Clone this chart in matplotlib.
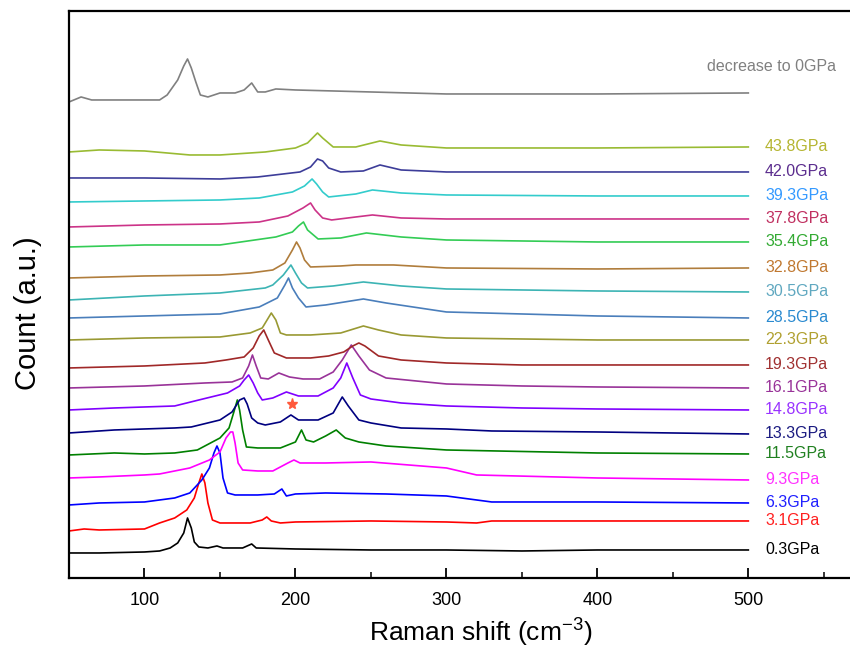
import matplotlib
matplotlib.use("Agg")
import matplotlib.pyplot as plt
from matplotlib.ticker import MultipleLocator

plt.rcParams["font.family"] = ["Liberation Sans", "DejaVu Sans"]

# Stacked Raman spectra under compression, plus the spectrum after release.
# Each trace: Raman shift (cm^-1) and stacked counts (a.u.), bottom to top.
pressures = ["0.3GPa", "3.1GPa", "6.3GPa", "9.3GPa", "11.5GPa", "13.3GPa",
             "14.8GPa", "16.1GPa", "19.3GPa", "22.3GPa", "28.5GPa", "30.5GPa",
             "32.8GPa", "35.4GPa", "37.8GPa", "39.3GPa", "42.0GPa", "43.8GPa"]
release_label = "decrease to 0GPa"

shift_03 = [50, 70, 100, 110, 117, 122, 126, 128.5, 131, 133, 136, 142, 148, 152, 165, 171, 174, 200, 250, 300, 350, 400, 450, 500]
count_03 = [25, 25, 26, 27, 30, 35, 45, 60, 50, 36, 31, 30, 32, 30, 30, 34, 30, 29, 28, 28, 27, 28, 28, 28]

shift_31 = [50, 60, 70, 100, 110, 120, 128, 133, 136, 138, 140, 142, 145, 150, 170, 178, 181, 184, 190, 200, 250, 300, 320, 330, 400, 500]
count_31 = [47, 49, 48, 49, 55, 60, 68, 80, 95, 104, 95, 75, 58, 55, 55, 58, 61, 57, 55, 56, 57, 56, 55, 57, 57, 57]

shift_63 = [50, 70, 100, 120, 130, 138, 143, 146, 148, 150, 152, 155, 160, 175, 186, 191, 194, 200, 220, 260, 300, 320, 330, 400, 500]
count_63 = [73, 75, 76, 80, 85, 98, 110, 125, 132, 125, 100, 85, 83, 83, 84, 89, 82, 84, 85, 84, 82, 78, 76, 76, 75]

shift_93 = [50, 70, 100, 110, 130, 143, 150, 154, 157, 158.5, 160, 162, 165, 175, 185, 195, 199, 203, 220, 250, 300, 320, 400, 500]
count_93 = [100, 101, 103, 104, 110, 118, 126, 140, 146, 146, 135, 115, 108, 107, 107, 115, 118, 115, 115, 116, 110, 103, 100, 98]

shift_115 = [50, 80, 100, 120, 135, 150, 156, 159, 161.5, 163, 165, 167.5, 175, 190, 200, 204, 207, 212, 220, 227, 233, 242, 260, 300, 400, 500]
count_115 = [123, 125, 124, 125, 128, 140, 150, 165, 178, 168, 148, 131, 130, 130, 136, 148, 138, 136, 142, 148, 140, 136, 132, 128, 125, 124]

shift_133 = [50, 80, 100, 120, 131, 150, 158, 163, 166, 168, 171, 175, 180, 190, 197, 202, 215, 225, 231, 235, 242, 250, 270, 300, 330, 400, 500]
count_133 = [145, 148, 149, 150, 151, 158, 166, 178, 180, 174, 160, 155, 153, 156, 163, 158, 158, 165, 181, 172, 158, 155, 150, 149, 147, 146, 144]

shift_148 = [50, 80, 100, 120, 136, 155, 163, 166, 169, 172, 175, 178, 185, 194, 202, 215, 225, 230, 234, 238, 243, 250, 270, 300, 350, 400, 500]
count_148 = [168, 170, 171, 172, 178, 185, 192, 198, 203, 195, 185, 178, 180, 186, 182, 182, 190, 200, 215, 200, 183, 179, 175, 172, 170, 169, 168]

shift_161 = [50, 100, 140, 158, 165, 169, 171.5, 174, 177, 182, 189, 196, 205, 216, 225, 231, 237, 242, 249, 260, 300, 350, 400, 500]
count_161 = [190, 192, 195, 196, 200, 212, 223, 212, 200, 199, 205, 201, 199, 199, 206, 218, 233, 222, 208, 200, 194, 192, 191, 190]

shift_193 = [50, 100, 140, 154, 166, 172, 176, 179, 182, 186, 194, 210, 222, 232, 238, 242, 246, 255, 270, 300, 350, 400, 500]
count_193 = [210, 212, 215, 218, 221, 230, 242, 248, 238, 225, 220, 220, 222, 226, 232, 235, 232, 222, 218, 215, 213, 213, 213]

shift_223 = [50, 100, 150, 170, 178, 184, 187, 190, 194, 210, 230, 245, 255, 270, 300, 400, 500]
count_223 = [238, 240, 241, 245, 250, 265, 258, 245, 243, 243, 245, 252, 248, 243, 240, 238, 238]

shift_285 = [50, 100, 150, 176, 188, 193, 195.4, 198, 202, 207, 220, 245, 260, 300, 400, 500]
count_285 = [260, 262, 264, 271, 280, 293, 300, 290, 280, 271, 273, 279, 275, 266, 262, 260]

shift_305 = [50, 100, 150, 180, 185, 192, 197, 200, 204, 208, 225, 245, 270, 300, 400, 500]
count_305 = [278, 282, 285, 290, 293, 303, 313, 305, 295, 290, 292, 296, 292, 289, 287, 286]

shift_328 = [50, 100, 150, 170, 185, 193, 198, 200.7, 203, 206, 210, 230, 240, 265, 300, 400, 500]
count_328 = [300, 302, 303, 305, 308, 315, 328, 336, 330, 318, 311, 312, 313, 313, 310, 309, 310]

shift_354 = [50, 100, 150, 187, 198, 202, 205.3, 208, 215, 230, 247, 270, 300, 400, 500]
count_354 = [331, 333, 333, 341, 346, 352, 356, 348, 339, 340, 345, 341, 338, 336, 336]

shift_378 = [50, 100, 150, 176, 195, 205, 210, 213, 218, 224, 240, 251, 270, 300, 400, 500]
count_378 = [351, 353, 354, 356, 362, 370, 375, 368, 360, 358, 361, 363, 360, 359, 359, 359]

shift_393 = [50, 100, 150, 176, 198, 206, 211, 214, 218, 222, 240, 251, 270, 300, 400, 500]
count_393 = [376, 377, 378, 380, 386, 392, 399, 394, 386, 381, 384, 388, 385, 383, 382, 382]

shift_420 = [50, 100, 150, 175, 203, 210, 214.6, 218, 222, 230, 245, 256, 270, 300, 400, 500]
count_420 = [400, 400, 399, 401, 406, 411, 419, 417, 410, 406, 407, 413, 408, 406, 406, 406]

shift_438 = [50, 70, 100, 130, 150, 160, 180, 200, 208, 214.6, 218, 225, 240, 256, 270, 300, 400, 500]
count_438 = [426, 428, 427, 423, 423, 424, 426, 430, 435, 445, 440, 431, 431, 437, 433, 430, 430, 431]

shift_rel = [50, 58, 65, 100, 110, 115, 122, 126, 128.5, 131, 134, 137, 142, 150, 160, 166, 171, 175, 180, 187, 200, 250, 300, 400, 500]
count_rel = [476, 481, 478, 478, 478, 483, 498, 512, 519, 510, 496, 483, 481, 485, 485, 488, 495, 486, 486, 489, 488, 486, 484, 484, 485]

# weak feature flagged with a star in the 13.3-14.8 GPa region
star_shift = 198
star_count = 174

line_colours = ["#000000", "#ff0000", "#0000ff", "#ff00ff", "#008000", "#000080",
                "#8000ff", "#993399", "#a02828", "#999933", "#4a7ebb", "#3cb4b4",
                "#b07d3c", "#33cc55", "#cc3388", "#33cccc", "#3d3d99", "#99bb33"]
label_colours = ["#000000", "#ff2020", "#2020ff", "#ff33ff", "#208020", "#1a1a80",
                 "#9933ff", "#993399", "#a03030", "#b0a030", "#2a8ad0", "#60a8c0",
                 "#c07830", "#33aa33", "#c03060", "#3399ff", "#5b2d8e", "#b5b531"]
release_colour = "#808080"

traces = [(shift_03, count_03), (shift_31, count_31), (shift_63, count_63),
          (shift_93, count_93), (shift_115, count_115), (shift_133, count_133),
          (shift_148, count_148), (shift_161, count_161), (shift_193, count_193),
          (shift_223, count_223), (shift_285, count_285), (shift_305, count_305),
          (shift_328, count_328), (shift_354, count_354), (shift_378, count_378),
          (shift_393, count_393), (shift_420, count_420), (shift_438, count_438)]


def main():
    fig = plt.figure(figsize=(8.5, 6.61), dpi=100)
    ax = fig.add_axes([0.0812, 0.1256, 0.9235, 0.8578])

    for (x, y), name, lc, tc in zip(traces, pressures, line_colours, label_colours):
        ax.plot(x, y, color=lc, lw=1.2)
        ax.annotate(name, xy=(x[-1], y[-1]), xytext=(12, 0), textcoords="offset points",
                    color=tc, fontsize=11.5, va="center", ha="left")

    ax.plot(shift_rel, count_rel, color=release_colour, lw=1.2)
    ax.annotate(release_label, xy=(shift_rel[-1], count_rel[-1]), xytext=(63, 19),
                textcoords="offset points", color=release_colour, fontsize=11.5,
                va="center", ha="right")

    ax.plot(star_shift, star_count, marker="*", color="#ff5a3c", ms=8, ls="none")

    ax.set_xlim(50, 570)
    ax.set_ylim(0, 567)
    ax.set_yticks([])
    ax.xaxis.set_major_locator(MultipleLocator(100))
    ax.xaxis.set_minor_locator(MultipleLocator(50))
    ax.tick_params(axis="x", which="major", direction="in", length=7, width=1.3,
                   labelsize=13, pad=10)
    ax.tick_params(axis="x", which="minor", direction="in", length=4, width=1.1)
    for side in ax.spines.values():
        side.set_linewidth(1.6)

    ax.set_xlabel(r"Raman shift (cm$^{\mathregular{-3}}$)", fontsize=19)
    ax.xaxis.set_label_coords(0.524, -0.065)
    ax.set_ylabel("Count (a.u.)", fontsize=21)
    ax.yaxis.set_label_coords(-0.034, 0.467)

    fig.savefig("out.png", dpi=100)
    plt.close(fig)


if __name__ == "__main__":
    main()
